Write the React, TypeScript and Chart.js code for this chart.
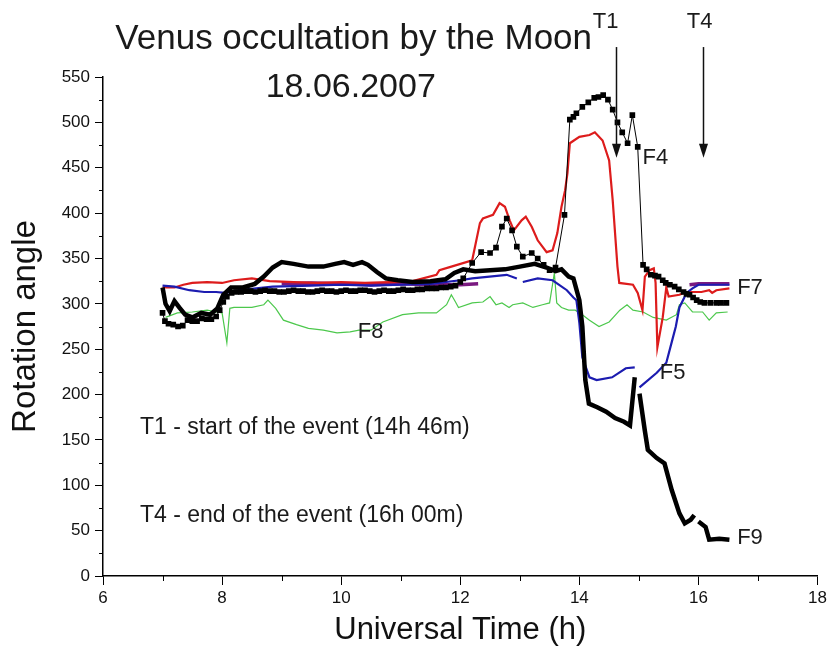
import React, { useEffect, useRef } from 'react';
import { Chart, registerables } from 'chart.js';

Chart.register(...registerables);

// ---------- data (time in h, angle in deg) ----------
const f4Time = [7.0, 7.04, 7.1, 7.18, 7.26, 7.34, 7.42, 7.5, 7.58, 7.66, 7.74, 7.82, 7.9, 7.96, 8.02, 8.08, 8.16, 8.24, 8.32, 8.4, 8.48, 8.56, 8.64, 8.72, 8.8, 8.88, 8.96, 9.04, 9.12, 9.2, 9.28, 9.36, 9.44, 9.52, 9.6, 9.68, 9.76, 9.84, 9.92, 10.0, 10.08, 10.16, 10.24, 10.32, 10.4, 10.48, 10.56, 10.64, 10.72, 10.8, 10.88, 10.96, 11.04, 11.12, 11.2, 11.28, 11.36, 11.44, 11.52, 11.6, 11.68, 11.76, 11.84, 11.92, 12.0, 12.05, 12.2, 12.35, 12.5, 12.6, 12.7, 12.78, 12.87, 12.95, 13.05, 13.2, 13.3, 13.4, 13.5, 13.6, 13.75, 13.84, 13.9, 13.95, 14.05, 14.15, 14.25, 14.32, 14.4, 14.48, 14.56, 14.64, 14.72, 14.81, 14.89, 14.98, 15.07, 15.13, 15.2, 15.27, 15.33, 15.4, 15.45, 15.52, 15.6, 15.67, 15.75, 15.8, 15.85, 15.91, 15.97, 16.03, 16.1, 16.2, 16.3, 16.38, 16.47];
const f4Angle = [290, 281, 278, 277, 275, 276, 282, 281, 281, 284, 283, 283, 286, 293, 302, 308, 312, 313, 313, 314, 314, 313, 314, 315, 314, 314, 313, 313, 314, 315, 314, 314, 313, 313, 314, 315, 314, 314, 313, 314, 315, 314, 314, 315, 315, 314, 313, 314, 315, 314, 314, 315, 316, 315, 315, 316, 316, 317, 317, 317, 318, 318, 319, 320, 324, 328, 345, 357, 356, 362, 385, 394, 381, 363, 352, 356, 350, 343, 337, 340, 398, 503, 506, 510, 517, 522, 527, 528, 530, 525, 514, 500, 489, 477, 508, 473, 343, 338, 332, 331, 330, 326, 323, 321, 319, 316, 313, 311, 310, 307, 304, 302, 301, 301, 301, 301, 301];

const f9Time = [7.0, 7.05, 7.12, 7.2, 7.28, 7.38, 7.5, 7.65, 7.8, 7.92, 8.02, 8.15, 8.35, 8.55, 8.7, 8.85, 9.0, 9.2, 9.45, 9.7, 9.9, 10.05, 10.2, 10.35, 10.45, 10.6, 10.75, 10.95, 11.2, 11.5, 11.75, 11.9, 12.05, 12.25, 12.5, 12.75, 13.0, 13.25, 13.45, 13.6, 13.7, 13.82, 13.9, 14.0, 14.05, 14.1, 14.16, 14.3, 14.45, 14.6, 14.75, 14.85, 14.93, 14.97, 15.01, 15.1, 15.15, 15.3, 15.43, 15.55, 15.68, 15.77, 15.87, 15.93, 15.96, 16.0, 16.12, 16.18, 16.35, 16.52];
const f9Angle = [318, 300, 292, 303, 296, 288, 285, 290, 288, 295, 310, 318, 318, 322, 330, 340, 346, 344, 341, 341, 344, 346, 343, 346, 343, 335, 328, 326, 324, 325, 327, 334, 338, 336, 337, 338, 341, 344, 340, 336, 338, 330, 328, 304, 275, 216, 190, 186, 181, 174, 170, 166, 219, null, 201, 160, 139, 130, 124, 95, 69, 58, 62, 67, null, 60, 54, 40, 41, 40];

const redTime = [7.0, 7.2, 7.35, 7.5, 7.75, 8.0, 8.2, 8.5, 8.8, 9.2, 9.6, 10.0, 10.4, 10.8, 11.2, 11.6, 11.65, 11.85, 12.2, 12.33, 12.38, 12.55, 12.66, 12.75, 12.83, 12.9, 13.03, 13.1, 13.2, 13.3, 13.45, 13.55, 13.63, 13.7, 13.76, 13.8, 13.84, 14.0, 14.17, 14.26, 14.39, 14.5, 14.56, 14.64, 14.67, 14.9, 14.98, 15.06, 15.1, 15.18, 15.25, 15.28, 15.31, 15.4, 15.46, 15.5, 15.68, 15.8, 16.05, 16.18, 16.23, 16.3, 16.52];
const redAngle = [318, 318, 321, 323, 324, 323, 326, 328, 325, 324, 323, 324, 323, 324, 325, 332, 337, 341, 348, 389, 394, 398, 411, 407, 392, 381, 392, 396, 385, 370, 357, 359, 378, 407, 425, 444, 477, 484, 486, 489, 480, 458, 414, 341, 323, 321, 312, 293, 330, 337, 339, 323, 252, 285, 318, 308, 310, 313, 313, 315, 312, 315, 317];

const f5Time = [7.0, 7.2, 7.45, 7.7, 7.9, 8.05, 8.3, 8.85, 9.5, 10.0, 10.5, 11.0, 11.5, 12.0, 12.2, 12.78, 12.95, 13.0, 13.05, 13.3, 13.55, 13.79, 13.9, 13.95, 14.0, 14.05, 14.17, 14.29, 14.55, 14.78, 14.93, 14.97, 15.01, 15.3, 15.46, 15.56, 15.62, 15.68, 15.8, 15.9, 16.0, 16.3, 16.52];
const f5Angle = [320, 319, 315, 313, 313, 312, 315, 319, 320, 321, 320, 321, 322, 326, 328, 332, 328, null, 324, 328, 326, 315, 307, 304, 279, 241, 219, 216, 219, 229, 230, null, 208, 224, 235, 260, 275, 296, 312, 317, 321, 321, 321];

const f7Time = [9.0, 9.5, 10.0, 10.5, 11.0, 11.5, 12.0, 12.3, 14.0, 15.85, 16.0, 16.3, 16.52];
const f7Angle = [322, 323, 322, 321, 322, 321, 321, 322, null, 321, 322, 322, 322];

const f8Time = [7.05, 7.25, 7.5, 7.75, 7.9, 8.0, 8.08, 8.13, 8.2, 8.5, 8.7, 8.77, 8.9, 9.03, 9.25, 9.45, 9.7, 9.93, 10.15, 10.3, 10.5, 10.7, 11.03, 11.3, 11.6, 11.77, 11.85, 11.92, 11.97, 12.2, 12.38, 12.5, 12.6, 12.7, 12.82, 12.88, 13.05, 13.22, 13.38, 13.5, 13.58, 13.62, 13.7, 13.82, 13.93, 14.05, 14.17, 14.33, 14.5, 14.68, 14.8, 14.9, 15.07, 15.24, 15.46, 15.63, 15.68, 15.77, 15.9, 16.07, 16.18, 16.3, 16.49];
const f8Angle = [285, 290, 291, 293, 291, 290, 257, 295, 296, 296, 299, 304, 295, 282, 277, 273, 271, 268, 269, 271, 271, 280, 288, 290, 290, 299, 310, 302, 296, 301, 302, 308, 299, 301, 296, 299, 301, 296, 299, 301, 334, 301, 296, 293, 293, 288, 282, 275, 280, 293, 299, 293, 291, 285, 282, 288, 299, 301, 291, 291, 282, 290, 291];

// ---------- annotations ----------
const seriesLabels = ['F4', 'F7', 'F8', 'F5', 'F9'];
const seriesLabelTime = [15.06, 16.65, 10.28, 15.35, 16.65];
const seriesLabelAngle = [461, 318, 269, 224, 42];

const noteTexts = ['T1 - start of the event (14h 46m)', 'T4 - end of the event (16h 00m)'];
const noteTime = [6.62, 6.62];
const noteAngle = [163, 67];

const eventNames = ['T1', 'T4'];
const eventArrowTime = [14.61, 16.07];
const eventLabelTime = [14.44, 16.02];
const eventLabelAngle = 611;
const arrowTopAngle = 583;
const arrowTipAngle = 461;

const titleText = 'Venus occultation by the Moon';
const subtitleText = '18.06.2007';
const titleTime = 10.21;
const titleAngle = 591;
const subtitleTime = 10.16;
const subtitleAngle = 538;

const xMinorTicks = [7, 9, 11, 13, 15, 17];
const yMinorTicks = [25, 75, 125, 175, 225, 275, 325, 375, 425, 475, 525];

const FONT = '"Liberation Sans", Arial, sans-serif';

function pts(xs: number[], ys: (number | null)[]) {
  return xs.map((x, i) => ({ x, y: ys[i] }));
}

const annotationPlugin = {
  id: 'annotations',
  afterDraw(chart: any) {
    const ctx = chart.ctx;
    const xs = chart.scales.x;
    const ys = chart.scales.y;
    const px = (v: number) => xs.getPixelForValue(v);
    const py = (v: number) => ys.getPixelForValue(v);
    ctx.save();
    // minor ticks
    ctx.strokeStyle = '#000';
    ctx.lineWidth = 1;
    const bottom = chart.chartArea.bottom;
    const left = chart.chartArea.left;
    xMinorTicks.forEach((t) => {
      const x = Math.round(px(t)) + 0.5;
      ctx.beginPath();
      ctx.moveTo(x, bottom);
      ctx.lineTo(x, bottom + 5);
      ctx.stroke();
    });
    yMinorTicks.forEach((t) => {
      const y = Math.round(py(t)) + 0.5;
      ctx.beginPath();
      ctx.moveTo(left, y);
      ctx.lineTo(left - 4, y);
      ctx.stroke();
    });

    ctx.fillStyle = '#1a1a1a';
    ctx.textBaseline = 'middle';
    // title
    ctx.textAlign = 'center';
    ctx.font = `35px ${FONT}`;
    ctx.fillText(titleText, px(titleTime), py(titleAngle));
    ctx.font = `34px ${FONT}`;
    ctx.fillText(subtitleText, px(subtitleTime), py(subtitleAngle));

    // event labels + arrows
    ctx.font = `22px ${FONT}`;
    eventNames.forEach((n, i) => {
      ctx.textAlign = 'center';
      ctx.fillText(n, px(eventLabelTime[i]), py(eventLabelAngle));
      const ax = Math.round(px(eventArrowTime[i])) + 0.5;
      const top = py(arrowTopAngle);
      const tip = py(arrowTipAngle);
      ctx.strokeStyle = '#111';
      ctx.lineWidth = 1.5;
      ctx.beginPath();
      ctx.moveTo(ax, top);
      ctx.lineTo(ax, tip - 10);
      ctx.stroke();
      ctx.fillStyle = '#111';
      ctx.beginPath();
      ctx.moveTo(ax, tip);
      ctx.lineTo(ax - 4.5, tip - 14);
      ctx.lineTo(ax + 4.5, tip - 14);
      ctx.closePath();
      ctx.fill();
      ctx.fillStyle = '#1a1a1a';
    });

    // series labels
    ctx.textAlign = 'left';
    ctx.font = `22px ${FONT}`;
    seriesLabels.forEach((s, i) => {
      ctx.fillText(s, px(seriesLabelTime[i]), py(seriesLabelAngle[i]));
    });

    // notes
    ctx.font = `23px ${FONT}`;
    noteTexts.forEach((s, i) => {
      ctx.fillText(s, px(noteTime[i]), py(noteAngle[i]));
    });
    ctx.restore();
  },
};

export default function App() {
  const ref = useRef<HTMLCanvasElement | null>(null);
  useEffect(() => {
    if (!ref.current) return;
    const chart = new Chart(ref.current, {
      type: 'line',
      data: {
        datasets: [
          { label: 'F9', data: pts(f9Time, f9Angle), borderColor: '#000', borderWidth: 4.5, pointRadius: 0, order: 0, spanGaps: false },
          { label: 'F4', data: pts(f4Time, f4Angle), borderColor: '#000', borderWidth: 1, pointRadius: 4, pointStyle: 'rect', pointBackgroundColor: '#000', pointBorderWidth: 0, order: 1 },
          { label: 'F5', data: pts(f5Time, f5Angle), borderColor: '#1c1cb0', borderWidth: 2.2, pointRadius: 0, order: 2, spanGaps: false },
          { label: 'F6', data: pts(redTime, redAngle), borderColor: '#dd1c1c', borderWidth: 2.2, pointRadius: 0, order: 3 },
          { label: 'F7', data: pts(f7Time, f7Angle), borderColor: '#7a1a80', borderWidth: 3.5, pointRadius: 0, order: 4, spanGaps: false },
          { label: 'F8', data: pts(f8Time, f8Angle), borderColor: '#4cc84c', borderWidth: 1.2, pointRadius: 0, order: 5 },
        ],
      },
      options: {
        animation: false,
        responsive: false,
        devicePixelRatio: 1,
        layout: { padding: { top: 77, right: 12, bottom: 0, left: 0 } },
        plugins: { legend: { display: false }, tooltip: { enabled: false }, title: { display: false } },
        elements: { line: { tension: 0 } },
        scales: {
          x: {
            type: 'linear',
            min: 6,
            max: 18,
            ticks: { stepSize: 2, color: '#111', font: { family: FONT, size: 17 }, padding: 3 },
            grid: { drawOnChartArea: false, drawTicks: true, tickLength: 9, color: '#000', lineWidth: 1 },
            border: { display: true, color: '#000', width: 1.5 },
            title: { display: true, text: 'Universal Time (h)', color: '#111', font: { family: FONT, size: 31 }, padding: { top: 0, bottom: 10 } },
            afterFit: (s: any) => { s.height = 83; },
          },
          y: {
            type: 'linear',
            min: 0,
            max: 550,
            ticks: { stepSize: 50, color: '#111', font: { family: FONT, size: 17 }, padding: 5 },
            grid: { drawOnChartArea: false, drawTicks: true, tickLength: 8, color: '#000', lineWidth: 1 },
            border: { display: true, color: '#000', width: 1.5 },
            title: { display: true, text: 'Rotation angle', color: '#111', font: { family: FONT, size: 33 }, padding: { top: 6, bottom: 0 } },
            afterFit: (s: any) => { s.width = 103; },
          },
        },
      },
      plugins: [annotationPlugin],
    } as any);
    return () => chart.destroy();
  }, []);
  return (
    <div style={{ position: 'absolute', left: 0, top: 0, width: 830, height: 659, background: '#fff' }}>
      <canvas ref={ref} width={830} height={659} style={{ width: 830, height: 659, display: 'block' }} />
    </div>
  );
}
